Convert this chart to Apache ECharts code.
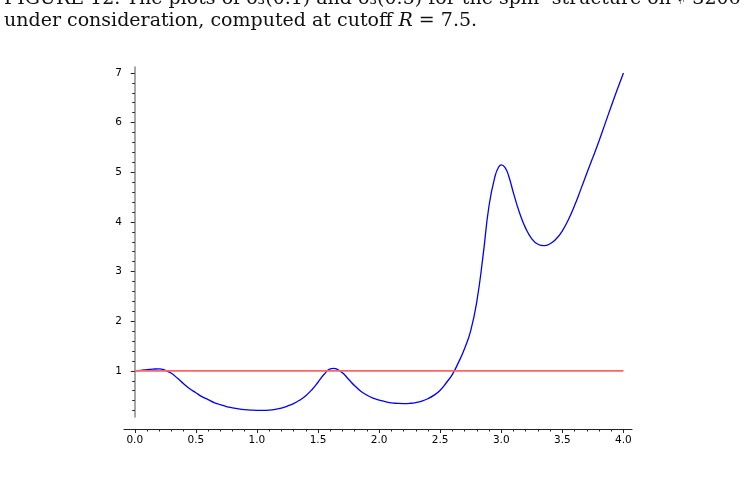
<!DOCTYPE html>
<html lang="en">

<head>
    <meta charset="UTF-8">
    <title>plot</title>
    <script src="https://cdn.jsdelivr.net/npm/echarts@6.0.0/dist/echarts.min.js"></script>
    <style>
        html, body { margin: 0; padding: 0; background: #fff; }
        #main { width: 748px; height: 483px; }
    </style>
</head>

<body>
    <div id="main"></div>
    <script>
        // blue curve
        var curveX = [0.00, 0.05, 0.10, 0.15, 0.20, 0.25, 0.30, 0.35, 0.40, 0.45,
            0.50, 0.55, 0.60, 0.65, 0.70, 0.75, 0.80, 0.85, 0.90, 0.95,
            1.00, 1.05, 1.10, 1.15, 1.20, 1.25, 1.30, 1.35, 1.40, 1.45,
            1.50, 1.55, 1.60, 1.63, 1.65, 1.70, 1.75, 1.80, 1.85, 1.90,
            1.95, 2.00, 2.05, 2.10, 2.15, 2.20, 2.25, 2.30, 2.35, 2.40,
            2.45, 2.50, 2.55, 2.60, 2.65, 2.70, 2.75, 2.80, 2.85, 2.90,
            2.95, 2.98, 3.00, 3.03, 3.06, 3.10, 3.15, 3.20, 3.25, 3.30,
            3.35, 3.40, 3.45, 3.50, 3.55, 3.60, 3.65, 3.70, 3.75, 3.80,
            3.85, 3.90, 3.95, 4.00];
        var curveY = [1.00, 1.01, 1.025, 1.035, 1.04, 1.01, 0.95, 0.85, 0.74, 0.64,
            0.56, 0.48, 0.42, 0.36, 0.32, 0.28, 0.255, 0.235, 0.22, 0.21,
            0.205, 0.205, 0.21, 0.225, 0.25, 0.29, 0.34, 0.41, 0.50, 0.62,
            0.77, 0.93, 1.04, 1.05, 1.04, 0.96, 0.83, 0.70, 0.59, 0.51,
            0.45, 0.41, 0.38, 0.355, 0.345, 0.34, 0.345, 0.36, 0.39, 0.44,
            0.51, 0.61, 0.76, 0.93, 1.17, 1.45, 1.81, 2.40, 3.30, 4.33,
            4.93, 5.11, 5.15, 5.10, 4.93, 4.58, 4.18, 3.87, 3.66, 3.55,
            3.52, 3.56, 3.66, 3.82, 4.05, 4.33, 4.65, 4.98, 5.30, 5.63,
            5.98, 6.33, 6.67, 7.00];

        // red reference line
        var refX = [0, 4];
        var refY = [1, 1];

        // ticks
        var xMajor = [0, 0.5, 1, 1.5, 2, 2.5, 3, 3.5, 4];
        var xMinor = [0.1, 0.2, 0.3, 0.4, 0.6, 0.7, 0.8, 0.9, 1.1, 1.2, 1.3, 1.4,
            1.6, 1.7, 1.8, 1.9, 2.1, 2.2, 2.3, 2.4, 2.6, 2.7, 2.8, 2.9,
            3.1, 3.2, 3.3, 3.4, 3.6, 3.7, 3.8, 3.9];
        var yMajor = [1, 2, 3, 4, 5, 6, 7];
        var yMinor = [0.2, 0.4, 0.6, 0.8, 1.2, 1.4, 1.6, 1.8, 2.2, 2.4, 2.6, 2.8,
            3.2, 3.4, 3.6, 3.8, 4.2, 4.4, 4.6, 4.8, 5.2, 5.4, 5.6, 5.8,
            6.2, 6.4, 6.6, 6.8];

        var captionTop = 'FIGURE 12. The plots of δ₃(0.1) and δ₃(0.5) for the spinᶜ structure on ♯ 3206';
        var captionText = 'under consideration, computed at cutoff ';

        var curveData = [];
        for (var i = 0; i < curveX.length; i++) {
            curveData.push([curveX[i], curveY[i]]);
        }
        var refData = [];
        for (var j = 0; j < refX.length; j++) {
            refData.push([refX[j], refY[j]]);
        }

        var myChart = echarts.init(document.getElementById('main'), null, { renderer: 'canvas' });

        var labelFont = 'DejaVu Sans';
        var capFont = 'DejaVu Serif';
        var xMin = -0.088, xMax = 4.07;
        var yMin = 0.07, yMax = 7.12;

        var option = {
            backgroundColor: '#fff',
            animation: false,
            graphic: [
                {
                    type: 'text',
                    left: 4,
                    top: -10,
                    style: {
                        text: captionTop,
                        font: '19px "' + capFont + '"',
                        fill: '#111'
                    }
                },
                {
                    type: 'text',
                    left: 4,
                    top: 12,
                    style: {
                        text: captionText + '{i|R} = 7.5.',
                        font: '19px "' + capFont + '"',
                        fill: '#111',
                        rich: {
                            i: { fontFamily: capFont, fontStyle: 'italic', fontSize: 19, fill: '#111' }
                        }
                    }
                }
            ],
            grid: {
                left: 124,
                right: 116,
                top: 67,
                bottom: 66
            },
            xAxis: [
                {
                    type: 'value',
                    min: xMin,
                    max: xMax,
                    position: 'bottom',
                    offset: 12,
                    axisLine: { show: true, onZero: false, lineStyle: { color: '#222', width: 1.2 } },
                    axisTick: { show: true, customValues: xMajor, length: 4, lineStyle: { color: '#222' } },
                    axisLabel: {
                        customValues: xMajor,
                        margin: 6,
                        color: '#000',
                        fontFamily: labelFont,
                        fontSize: 10.5,
                        formatter: function (v) { return v.toFixed(1); }
                    },
                    splitLine: { show: false }
                },
                {
                    type: 'value',
                    min: xMin,
                    max: xMax,
                    position: 'bottom',
                    offset: 12,
                    axisLine: { show: false, onZero: false },
                    axisTick: { show: true, customValues: xMinor, length: 2.5, lineStyle: { color: '#222' } },
                    axisLabel: { show: false },
                    splitLine: { show: false }
                }
            ],
            yAxis: [
                {
                    type: 'value',
                    min: yMin,
                    max: yMax,
                    position: 'left',
                    axisLine: { show: true, onZero: true, lineStyle: { color: '#888', width: 1.5 } },
                    axisTick: { show: true, customValues: yMajor, length: 4, lineStyle: { color: '#222' } },
                    axisLabel: {
                        customValues: yMajor,
                        margin: 2,
                        color: '#000',
                        fontFamily: labelFont,
                        fontSize: 10.5
                    },
                    splitLine: { show: false }
                },
                {
                    type: 'value',
                    min: yMin,
                    max: yMax,
                    position: 'left',
                    axisLine: { show: false, onZero: true },
                    axisTick: { show: true, customValues: yMinor, length: 2.5, lineStyle: { color: '#222' } },
                    axisLabel: { show: false },
                    splitLine: { show: false }
                }
            ],
            series: [
                {
                    name: 'curve',
                    type: 'line',
                    xAxisIndex: 0,
                    yAxisIndex: 0,
                    data: curveData,
                    smooth: 0.5,
                    showSymbol: false,
                    symbol: 'none',
                    lineStyle: { color: '#0000ff', width: 1.3 }
                },
                {
                    name: 'ref',
                    type: 'line',
                    xAxisIndex: 0,
                    yAxisIndex: 0,
                    data: refData,
                    showSymbol: false,
                    symbol: 'none',
                    lineStyle: { color: '#ff6363', width: 1.8 }
                }
            ]
        };

        myChart.setOption(option);
    </script>
</body>

</html>
